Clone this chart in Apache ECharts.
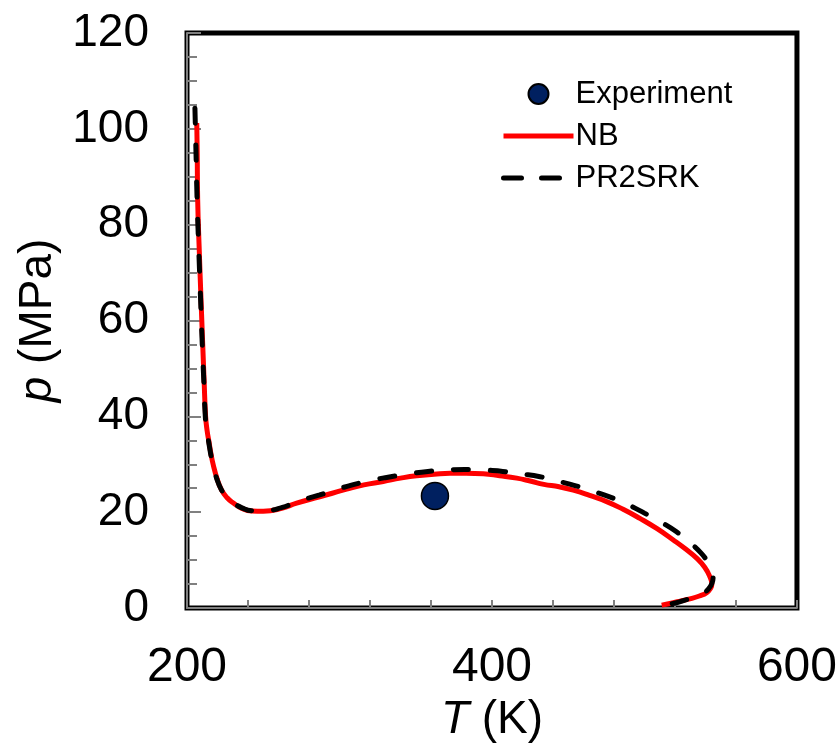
<!DOCTYPE html>
<html>
<head>
<meta charset="utf-8">
<script src="https://cdn.jsdelivr.net/npm/echarts@6/dist/echarts.min.js"></script>
<style>html,body{margin:0;padding:0;background:#fff}#c{width:840px;height:751px}</style>
</head>
<body>
<div id="c"></div>
<script>
// Series data: [T (K), p (MPa)]
const experiment = [[362.6, 23.4]];
const nbCurve = [
  [206.4, 101.2], [206.7, 95], [207.0, 85.2], [208.0, 75], [209.2, 64.3], [210.3, 55],
  [211.2, 47.6], [212.2, 40.0], [213.2, 37.0], [214.4, 34.7], [215.7, 32.2], [217.2, 29.9],
  [219.7, 27.0], [222.7, 24.6], [226.3, 23.0], [230.4, 21.9], [236.0, 20.8],
  [242.4, 20.25], [250.0, 20.2], [262.1, 20.8], [271.9, 21.9], [287.0, 23.2],
  [304.7, 24.8], [316.0, 25.7], [328.7, 26.4], [340.0, 27.1], [350.6, 27.6], [362.0, 27.9],
  [372.5, 28.1], [383.0, 28.1], [394.3, 28.0], [405.0, 27.6], [416.2, 27.1], [425.0, 26.5],
  [434.0, 25.8], [444.0, 25.3], [453.3, 24.6], [464.0, 23.5], [475.2, 22.2], [486.0, 20.6],
  [497.0, 18.7], [508.0, 16.6], [518.9, 14.2], [527.0, 12.3], [534.2, 10.4], [539.5, 8.5],
  [542.9, 6.5], [544.2, 5.0], [543.5, 4.2], [540.8, 3.2], [536.0, 2.5],
  [529.8, 1.9], [524.0, 1.5], [518.9, 1.1], [511.3, 0.6]
];
const pr2srkCurve = [
  [205.2, 104.3], [205.9, 95], [206.6, 85.5], [207.7, 75], [208.9, 64.5], [210.0, 55],
  [211.0, 47.6], [212.0, 40.0], [213.0, 37.0], [214.2, 34.7], [215.5, 32.2], [217.0, 29.9],
  [219.5, 27.0], [222.5, 24.7], [226.0, 23.1], [230.2, 22.0], [236.0, 20.9],
  [242.4, 20.3], [250.0, 20.3], [262.5, 21.0], [272.0, 22.2], [287.0, 23.6],
  [305.0, 25.4], [318.0, 26.4], [330.0, 27.2], [344.0, 27.9], [358.0, 28.5], [370.0, 28.8],
  [382.0, 28.9], [395.0, 28.8], [407.0, 28.5], [419.0, 28.0], [431.5, 27.4], [443.0, 26.5],
  [455.0, 25.5], [466.0, 24.4], [478.0, 23.1], [489.0, 21.6], [500.0, 19.8], [511.0, 17.9],
  [521.0, 15.9], [530.0, 13.6], [537.0, 11.5], [541.5, 9.6], [544.2, 8.0], [545.0, 6.5],
  [544.3, 5.2], [542.0, 4.0], [538.0, 3.0], [532.0, 2.2], [526.0, 1.6],
  [521.0, 1.1], [511.0, 0.5]
];
const xTicks = [200, 400, 600];
const yTicks = [0, 20, 40, 60, 80, 100, 120];

const FONT = '"Liberation Sans", Arial, sans-serif';
const DASH = [15, 22];
const chart = echarts.init(document.getElementById('c'), null, {renderer: 'canvas'});
chart.setOption({
  animation: false,
  backgroundColor: '#fff',
  grid: {left: 187, right: 43, top: 33, bottom: 143, show: true, borderColor: '#000', borderWidth: 5, backgroundColor: '#fff'},
  legend: {
    orient: 'vertical', left: 496, top: 73, itemWidth: 70, itemHeight: 20, itemGap: 10,
    lineStyle: {width: 5},
    data: [
      {name: 'Experiment'},
      {name: 'NB', itemStyle: {opacity: 0}},
      {name: 'PR2SRK', itemStyle: {opacity: 0}, lineStyle: {width: 5, type: [18, 20], cap: 'round'}}
    ],
    textStyle: {fontFamily: FONT, fontSize: 31, color: '#000', lineHeight: 32, padding: [0, 0, 0, -3]}
  },
  xAxis: {
    type: 'value', min: xTicks[0], max: xTicks[xTicks.length - 1], interval: 200,
    name: '{i|T} (K)', nameLocation: 'middle', nameGap: 86,
    nameTextStyle: {fontFamily: FONT, fontSize: 46, color: '#000', rich: {i: {fontFamily: FONT, fontSize: 46, fontStyle: 'italic', color: '#000'}}},
    axisLine: {show: true, onZero: false, lineStyle: {color: '#808080', width: 2}},
    axisTick: {show: true, inside: true, length: 8, lineStyle: {color: '#808080', width: 2}},
    minorTick: {show: true, splitNumber: 5, length: 8, lineStyle: {color: '#808080', width: 2}},
    splitLine: {show: false},
    axisLabel: {fontFamily: FONT, fontSize: 48, color: '#000', margin: 36}
  },
  yAxis: {
    type: 'value', min: yTicks[0], max: yTicks[yTicks.length - 1], interval: 20,
    name: '{i|p} (MPa)', nameLocation: 'middle', nameGap: 124, nameRotate: 90,
    nameTextStyle: {fontFamily: FONT, fontSize: 46, color: '#000', rich: {i: {fontFamily: FONT, fontSize: 46, fontStyle: 'italic', color: '#000'}}},
    axisLine: {show: true, onZero: false, lineStyle: {color: '#808080', width: 2}},
    axisTick: {show: true, inside: true, length: 14, lineStyle: {color: '#808080', width: 2}},
    minorTick: {show: true, splitNumber: 4, length: 10, lineStyle: {color: '#808080', width: 2}},
    splitLine: {show: false},
    axisLabel: {fontFamily: FONT, fontSize: 46, color: '#000', margin: 38}
  },
  series: [
    {
      name: 'Experiment', type: 'scatter', data: experiment, symbol: 'circle', symbolSize: 27, z: 5,
      itemStyle: {color: '#002060', borderColor: '#000', borderWidth: 1.5, opacity: 1}
    },
    {
      name: 'NB', type: 'line', data: nbCurve, smooth: 0.5, showSymbol: false, symbol: 'none', z: 3,
      lineStyle: {color: '#FF0000', width: 5}, itemStyle: {color: '#FF0000'}
    },
    {
      name: 'PR2SRK', type: 'line', data: pr2srkCurve, smooth: 0.5, showSymbol: false, symbol: 'none', z: 4,
      lineStyle: {color: '#000', width: 5, type: DASH, cap: 'round'}, itemStyle: {color: '#000'}
    }
  ]
});
</script>
</body>
</html>
